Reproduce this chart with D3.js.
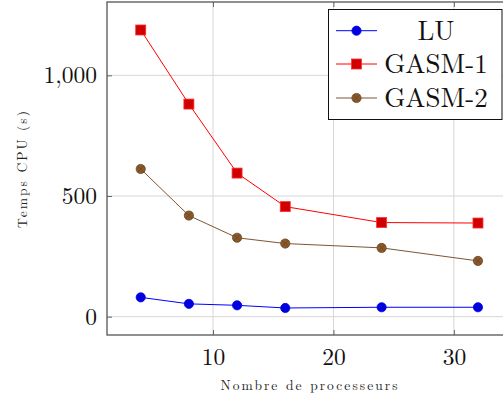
<!DOCTYPE html>
<html><head><meta charset="utf-8">
<script src="https://cdn.jsdelivr.net/npm/d3@7"></script>
<style>body{margin:0;background:#fff}svg{display:block}</style>
</head><body>
<svg id="c" width="503" height="401"></svg>
<script>
const procs = [4, 8, 12, 16, 24, 32];
const luValues = [80, 53, 47, 36, 39, 39];
const gasm1Values = [1188, 881, 595, 456, 390, 388];
const gasm2Values = [612, 419, 327, 303, 285, 231];
const seriesNames = ["LU", "GASM-1", "GASM-2"];
const xTicks = [10, 20, 30];
const yTicks = [0, 500, 1000];
const xLabel = "Nombre de processeurs";
const yLabel = "Temps CPU (s)";

const svg = d3.select("#c");
const L = 107, T = 2, B = 335, R = 511.7;
const x = d3.scaleLinear().domain([1.2, 34.8]).range([L, R]);
const y = d3.scaleLinear().domain([-76, 1304]).range([B, T]);
const serif = "Latin Modern Roman";

// grid
const g = svg.append("g");
g.selectAll(".gx").data(xTicks).join("line")
  .attr("x1", d => x(d)).attr("x2", d => x(d)).attr("y1", T).attr("y2", B)
  .attr("stroke", "#d6d6d6").attr("stroke-width", 1);
g.selectAll(".gy").data(yTicks).join("line")
  .attr("y1", d => y(d)).attr("y2", d => y(d)).attr("x1", L).attr("x2", R)
  .attr("stroke", "#d6d6d6").attr("stroke-width", 1);

// axes via d3 axis
const fmt = d3.format(",");
const xAxis = svg.append("g").attr("transform", `translate(0,${B})`)
  .call(d3.axisBottom(x).tickValues(xTicks).tickSize(-5).tickPadding(13).tickFormat(d3.format("d")));
const yAxis = svg.append("g").attr("transform", `translate(${L},0)`)
  .call(d3.axisLeft(y).tickValues(yTicks).tickSize(-5).tickPadding(10).tickFormat(fmt));
[xAxis, yAxis].forEach(a => {
  a.select(".domain").remove();
  a.selectAll(".tick line").attr("stroke", "#666").attr("stroke-width", 1);
  a.selectAll("text").attr("font-family", serif).attr("font-size", 23.5).attr("fill", "#111");
});
// top ticks
svg.append("g").attr("transform", `translate(0,${T})`)
  .call(d3.axisTop(x).tickValues(xTicks).tickSize(-5).tickFormat(""))
  .call(a => { a.select(".domain").remove(); a.selectAll("line").attr("stroke", "#666"); });

// frame
svg.append("rect").attr("x", L).attr("y", T).attr("width", R - L).attr("height", B - T)
  .attr("fill", "none").attr("stroke", "#555").attr("stroke-width", 1.3);

// axis labels
svg.append("text").attr("x", 309).attr("y", 390).attr("text-anchor", "middle")
  .attr("font-family", serif).attr("font-size", 13.5).attr("fill", "#222")
  .attr("textLength", 177).attr("lengthAdjust", "spacing").text(xLabel);
svg.append("text").attr("transform", "translate(27,169.5) rotate(-90)").attr("text-anchor", "middle")
  .attr("font-family", serif).attr("font-size", 13.5).attr("fill", "#222")
  .attr("textLength", 117).attr("lengthAdjust", "spacing").text(yLabel);

// series
const series = [
  {name: seriesNames[0], vals: luValues, line: "#0000ff", fill: "#0000dd", stroke: "#0000ee", mark: "circle"},
  {name: seriesNames[1], vals: gasm1Values, line: "#ff0000", fill: "#d00000", stroke: "#ff3030", mark: "square"},
  {name: seriesNames[2], vals: gasm2Values, line: "#7d5634", fill: "#8a5a2c", stroke: "#6a4420", mark: "otimes"}
];
const lineGen = d3.line().x(d => x(d[0])).y(d => y(d[1]));

function drawMark(sel, s, cx, cy) {
  if (s.mark === "circle") {
    sel.append("circle").attr("cx", cx).attr("cy", cy).attr("r", 4.6).attr("fill", s.fill).attr("stroke", s.stroke).attr("stroke-width", 0.8);
  } else if (s.mark === "square") {
    sel.append("rect").attr("x", cx - 5).attr("y", cy - 5).attr("width", 10).attr("height", 10)
      .attr("fill", s.fill).attr("stroke", s.stroke).attr("stroke-width", 0.8);
  } else {
    sel.append("circle").attr("cx", cx).attr("cy", cy).attr("r", 4.6).attr("fill", s.fill).attr("stroke", s.stroke).attr("stroke-width", 0.8);
    const r = 4.6 * Math.SQRT1_2;
    sel.append("path").attr("d", `M${cx - r},${cy - r}L${cx + r},${cy + r}M${cx - r},${cy + r}L${cx + r},${cy - r}`)
      .attr("stroke", s.stroke).attr("stroke-width", 0.8).attr("fill", "none");
  }
}

series.forEach(s => {
  const pts = procs.map((p, i) => [p, s.vals[i]]);
  svg.append("path").datum(pts).attr("d", lineGen).attr("fill", "none").attr("stroke", s.line).attr("stroke-width", 1);
  const mg = svg.append("g");
  pts.forEach(p => drawMark(mg, s, x(p[0]), y(p[1])));
});

// legend
const lg = svg.append("g");
lg.append("rect").attr("x", 328.5).attr("y", 9.5).attr("width", 173.5).attr("height", 110)
  .attr("fill", "#fff").attr("stroke", "#111").attr("stroke-width", 1);
const rowY = [30.7, 64, 98];
const baseY = [39.5, 72.5, 106.5];
series.forEach((s, i) => {
  lg.append("line").attr("x1", 336).attr("x2", 377).attr("y1", rowY[i]).attr("y2", rowY[i]).attr("stroke", s.line).attr("stroke-width", 1);
  drawMark(lg, s, 356.5, rowY[i]);
  lg.append("text").attr("x", 436).attr("y", baseY[i]).attr("text-anchor", "middle")
    .attr("font-family", serif).attr("font-size", 27).attr("fill", "#111").text(s.name);
});
</script>
</body></html>
